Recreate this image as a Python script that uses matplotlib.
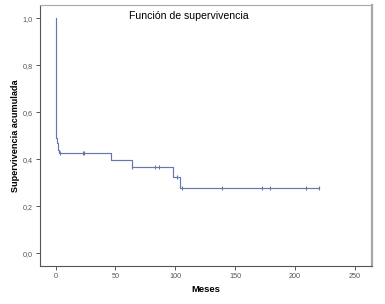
import matplotlib

matplotlib.use("Agg")
import matplotlib.pyplot as plt
from matplotlib.ticker import FuncFormatter

plt.rcParams["font.family"] = ["Liberation Sans", "DejaVu Sans"]

# Kaplan-Meier step curve: event times (months) and survival after each event
event_times = [0.0, 0.2, 0.5, 0.9, 1.8, 3.0, 46, 64, 98, 104]
surv_after = [0.75, 0.56, 0.49, 0.468, 0.44, 0.425, 0.397, 0.365, 0.323, 0.277]
end_time = 220

# censored observations (months)
censor_times = [3.7, 22.7, 24.0, 64.0, 83.3, 86.1, 101.4, 105.8, 139.2, 172.4, 179.0, 209.4, 220.2]

title = "Función de supervivencia"
xlabel = "Meses"
ylabel = "Supervivencia acumulada"
xticks = [0, 50, 100, 150, 200, 250]
yticks = [0.0, 0.2, 0.4, 0.6, 0.8, 1.0]

line_color = "#6678aa"


def surv_at(t):
    s = 1.0
    for et, sv in zip(event_times, surv_after):
        if et <= t:
            s = sv
    return s


xs, ys = [0.0], [1.0]
for et, sv in zip(event_times, surv_after):
    xs += [et, et]
    ys += [ys[-1], sv]
xs.append(end_time)
ys.append(ys[-1])

fig = plt.figure(figsize=(3.85, 3.04), dpi=100)
ax = fig.add_axes([0.1026, 0.126, 0.8624, 0.858])
ax.plot(xs, ys, color=line_color, lw=0.85)
ax.plot(censor_times, [surv_at(t) for t in censor_times], ls="none",
        marker="|", ms=3.2, mew=0.8, color=line_color)

ax.set_xlim(-13.4, 263.8)
ax.set_ylim(-0.053, 1.057)
ax.set_xticks(xticks)
ax.set_yticks(yticks)
ax.yaxis.set_major_formatter(FuncFormatter(lambda v, p: f"{v:.1f}".replace(".", ",")))
ax.tick_params(labelsize=5.2, length=3, width=0.7, colors="#555555", pad=2)

for side in ("left", "bottom"):
    ax.spines[side].set_color("#555555")
    ax.spines[side].set_linewidth(0.8)
for side in ("top", "right"):
    ax.spines[side].set_color("#a8a8a8")
ax.spines["top"].set_linewidth(0.8)
ax.spines["right"].set_linewidth(1.6)

ax.text(0.45, 0.959, title, transform=ax.transAxes, ha="center", va="center", fontsize=7.6)
ax.set_xlabel(xlabel, fontsize=6.8, fontweight="bold", labelpad=4)
ax.set_ylabel(ylabel, fontsize=6.6, fontweight="bold", labelpad=2)

fig.savefig("out.png", dpi=100)
